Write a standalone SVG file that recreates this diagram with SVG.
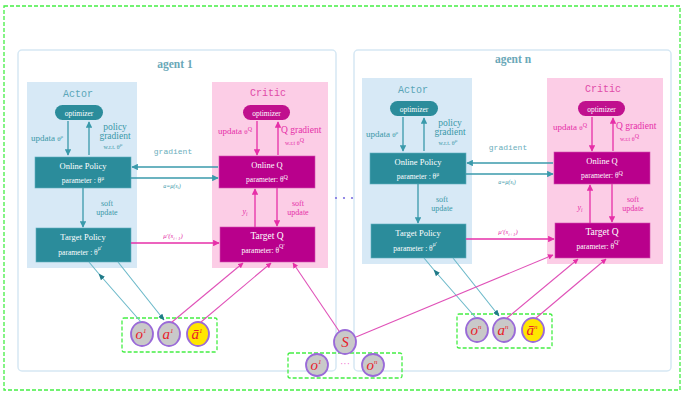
<svg xmlns="http://www.w3.org/2000/svg" width="682" height="393" viewBox="0 0 682 393">
<defs>
<style>
text{font-family:"Liberation Serif","DejaVu Serif",serif;}
.mono{font-family:"Liberation Mono","DejaVu Sans Mono",monospace;}
.agent{fill:#ffffff;stroke:#d6e8f4;stroke-width:1.5;}
.apanel{fill:#d7e9f6;}
.cpanel{fill:#fccde6;}
.tbox{fill:#2b8c9b;stroke:#5fb0c0;stroke-width:0.6;}
.mbox{fill:#b9008c;stroke:#d050b0;stroke-width:0.6;}
.wt{fill:#ffffff;text-anchor:middle;}
.tl{stroke:#3a9aab;stroke-width:1.3;fill:none;}
.pl{stroke:#e62fa8;stroke-width:1.3;fill:none;}
.tl2{stroke:#6ab8c8;stroke-width:1.1;fill:none;}
.pl2{stroke:#e052b8;stroke-width:1.1;fill:none;}
.tlab{fill:#3a98a8;}
.plab{fill:#e62fa8;}
.dash{fill:none;stroke:#44ee44;stroke-width:1.3;stroke-dasharray:4 2;}
.obs{fill:#c9c9c9;stroke:#9a6ad8;stroke-width:1.8;}
.obsy{fill:#ffe600;stroke:#9a6ad8;stroke-width:1.8;}
.ot{fill:#e8202a;font-style:italic;font-size:15px;text-anchor:middle;}
</style>
<marker id="at" viewBox="0 0 10 10" refX="9" refY="5" markerWidth="5" markerHeight="5" orient="auto"><path d="M0,0 L10,5 L0,10 z" fill="#3a9aab"/></marker>
<marker id="at2" viewBox="0 0 10 10" refX="9" refY="5" markerWidth="6" markerHeight="6" orient="auto"><path d="M0,1 L10,5 L0,9 z" fill="#1f7a88"/></marker>
<marker id="ap" viewBox="0 0 10 10" refX="9" refY="5" markerWidth="5" markerHeight="5" orient="auto"><path d="M0,0 L10,5 L0,10 z" fill="#e62fa8"/></marker>
</defs>

<rect class="dash" x="4" y="6" width="676" height="384"/>
<rect class="agent" x="18" y="50" width="318" height="321" rx="4"/>
<rect class="agent" x="354" y="50" width="317" height="321" rx="4"/>

<g id="dots">
<circle cx="336" cy="198" r="1.1" fill="#7b6fe0"/>
<circle cx="344" cy="198" r="1.1" fill="#7b6fe0"/>
<circle cx="352" cy="198" r="1.1" fill="#7b6fe0"/>
</g>

<!-- agent 1 -->
<g id="agent1">
<text x="175" y="68" text-anchor="middle" font-size="11.5" font-weight="bold" fill="#6aa8b8">agent 1</text>
<g id="actor1-panel"><rect class="apanel" x="27" y="82" width="110" height="186"/><text class="mono" x="78" y="97" text-anchor="middle" font-size="10" fill="#5aa6b8">Actor</text></g>
<g id="critic1-panel"><rect class="cpanel" x="212" y="82" width="116" height="186"/><text class="mono" x="268" y="96" text-anchor="middle" font-size="10" fill="#e04aa8">Critic</text></g>
<g id="actor1-opt"><rect x="55" y="105" width="48" height="15" rx="7.5" fill="#2b8c9b"/><text class="wt" x="79" y="115.5" font-size="7.5">optimizer</text></g>
<g id="critic1-opt"><rect x="243" y="105" width="47" height="15" rx="7.5" fill="#c0108e"/><text class="wt" x="266.5" y="115.5" font-size="7.5">optimizer</text></g>
<g id="online-policy1"><rect class="tbox" x="35" y="157" width="96" height="31"/><text class="wt" x="83" y="169" font-size="8.5">Online Policy</text><text class="wt" x="83" y="183" font-size="7.5">parameter : θ<tspan font-size="5.5" dy="-3">μ</tspan></text></g>
<g id="online-q1"><rect class="mbox" x="219" y="156" width="96" height="32"/><text class="wt" x="267" y="168" font-size="8.5">Online Q</text><text class="wt" x="267" y="182" font-size="7.5">parameter:  θ<tspan font-size="6" dy="-3">Q</tspan></text></g>
<g id="target-policy1"><rect class="tbox" x="36" y="228" width="95" height="34"/><text class="wt" x="83" y="240" font-size="8.5">Target Policy</text><text class="wt" x="80" y="255" font-size="7.5">parameter : θ<tspan font-size="5.5" dy="-5">μ'</tspan></text></g>
<g id="target-q1"><rect class="mbox" x="220" y="227" width="95" height="35"/><text class="wt" x="267" y="239" font-size="9.5">Target Q</text><text class="wt" x="263" y="253" font-size="7.5">parameter:  θ<tspan font-size="6" dy="-5">Q'</tspan></text></g>

<g id="agent1-labels">
<text class="tlab" x="31" y="141" font-size="9">updata <tspan font-size="7">θ</tspan><tspan font-size="5" dy="-3">μ</tspan></text>
<text class="tlab" x="115" y="130" font-size="9.5" text-anchor="middle">policy</text>
<text class="tlab" x="115" y="139" font-size="9.5" text-anchor="middle">gradient</text>
<text class="tlab" x="113" y="149" font-size="6" text-anchor="middle">w.r.t. θ<tspan font-size="5" dy="-3">μ</tspan></text>
<text class="mono" x="173" y="154" font-size="8" text-anchor="middle" fill="#6aaebc">gradient</text>
<text class="tlab" x="172" y="188" font-size="6" font-style="italic" text-anchor="middle">a=μ(s<tspan font-size="4.5" dy="1">i</tspan><tspan dy="-1">)</tspan></text>
<text class="tlab" x="107" y="206" font-size="8" text-anchor="middle">soft</text>
<text class="tlab" x="107" y="215" font-size="8" text-anchor="middle">update</text>
<text class="plab" x="252" y="134" font-size="9" text-anchor="end">updata <tspan font-size="7">θ</tspan><tspan font-size="6" dy="-3">Q</tspan></text>
<text class="plab" x="281" y="133" font-size="9.5">Q gradient</text>
<text class="plab" x="285" y="145" font-size="6">w.r.t θ<tspan font-size="6" dy="-3">Q</tspan></text>
<text class="plab" x="245" y="214" font-size="8" font-style="italic" text-anchor="middle">y<tspan font-size="5.5" dy="1.5">i</tspan></text>
<text class="plab" x="298" y="206" font-size="8" text-anchor="middle">soft</text>
<text class="plab" x="298" y="215" font-size="8" text-anchor="middle">update</text>
<text class="plab" x="173" y="238" font-size="7" font-style="italic" text-anchor="middle">μ'(s<tspan font-size="5" dy="1.5">i+1</tspan><tspan dy="-1.5">)</tspan></text>
</g>

<g id="obs1">
<rect class="dash" x="122" y="318" width="95" height="34" rx="2"/>
<g id="o1"><ellipse class="obs" cx="142" cy="334" rx="11" ry="12"/><text class="ot" x="141" y="339">o<tspan font-size="7" dy="-6">1</tspan></text></g>
<g id="a1"><ellipse class="obs" cx="169" cy="334" rx="11" ry="12"/><text class="ot" x="168" y="339">a<tspan font-size="7" dy="-6">1</tspan></text></g>
<g id="abar1"><ellipse class="obsy" cx="198" cy="334" rx="11" ry="12"/><text class="ot" x="197" y="339">ā<tspan font-size="7" dy="-6">1</tspan></text></g>
</g>
</g>

<!-- agent n -->
<g id="agentn" transform="translate(335,-4)">
<text x="178" y="67" text-anchor="middle" font-size="11.5" font-weight="bold" fill="#6aa8b8">agent n</text>
<g id="actorn-panel"><rect class="apanel" x="27" y="82" width="110" height="186"/><text class="mono" x="78" y="97" text-anchor="middle" font-size="10" fill="#5aa6b8">Actor</text></g>
<g id="criticn-panel"><rect class="cpanel" x="212" y="82" width="116" height="186"/><text class="mono" x="268" y="96" text-anchor="middle" font-size="10" fill="#e04aa8">Critic</text></g>
<g id="actorn-opt"><rect x="55" y="105" width="48" height="15" rx="7.5" fill="#2b8c9b"/><text class="wt" x="79" y="115.5" font-size="7.5">optimizer</text></g>
<g id="criticn-opt"><rect x="243" y="105" width="47" height="15" rx="7.5" fill="#c0108e"/><text class="wt" x="266.5" y="115.5" font-size="7.5">optimizer</text></g>
<g id="online-policyn"><rect class="tbox" x="35" y="157" width="96" height="31"/><text class="wt" x="83" y="169" font-size="8.5">Online Policy</text><text class="wt" x="83" y="183" font-size="7.5">parameter : θ<tspan font-size="5.5" dy="-3">μ</tspan></text></g>
<g id="online-qn"><rect class="mbox" x="219" y="156" width="96" height="32"/><text class="wt" x="267" y="168" font-size="8.5">Online Q</text><text class="wt" x="267" y="182" font-size="7.5">parameter:  θ<tspan font-size="6" dy="-3">Q</tspan></text></g>
<g id="target-policyn"><rect class="tbox" x="36" y="228" width="95" height="34"/><text class="wt" x="83" y="240" font-size="8.5">Target Policy</text><text class="wt" x="80" y="255" font-size="7.5">parameter : θ<tspan font-size="5.5" dy="-5">μ'</tspan></text></g>
<g id="target-qn"><rect class="mbox" x="220" y="227" width="95" height="35"/><text class="wt" x="267" y="239" font-size="9.5">Target Q</text><text class="wt" x="263" y="253" font-size="7.5">parameter:  θ<tspan font-size="6" dy="-5">Q'</tspan></text></g>

<g id="agentn-labels">
<text class="tlab" x="31" y="141" font-size="9">updata <tspan font-size="7">θ</tspan><tspan font-size="5" dy="-3">μ</tspan></text>
<text class="tlab" x="115" y="130" font-size="9.5" text-anchor="middle">policy</text>
<text class="tlab" x="115" y="139" font-size="9.5" text-anchor="middle">gradient</text>
<text class="tlab" x="113" y="149" font-size="6" text-anchor="middle">w.r.t. θ<tspan font-size="5" dy="-3">μ</tspan></text>
<text class="mono" x="173" y="154" font-size="8" text-anchor="middle" fill="#6aaebc">gradient</text>
<text class="tlab" x="172" y="188" font-size="6" font-style="italic" text-anchor="middle">a=μ(s<tspan font-size="4.5" dy="1">i</tspan><tspan dy="-1">)</tspan></text>
<text class="tlab" x="107" y="206" font-size="8" text-anchor="middle">soft</text>
<text class="tlab" x="107" y="215" font-size="8" text-anchor="middle">update</text>
<text class="plab" x="252" y="134" font-size="9" text-anchor="end">updata <tspan font-size="7">θ</tspan><tspan font-size="6" dy="-3">Q</tspan></text>
<text class="plab" x="281" y="133" font-size="9.5">Q gradient</text>
<text class="plab" x="285" y="145" font-size="6">w.r.t θ<tspan font-size="6" dy="-3">Q</tspan></text>
<text class="plab" x="245" y="214" font-size="8" font-style="italic" text-anchor="middle">y<tspan font-size="5.5" dy="1.5">i</tspan></text>
<text class="plab" x="298" y="206" font-size="8" text-anchor="middle">soft</text>
<text class="plab" x="298" y="215" font-size="8" text-anchor="middle">update</text>
<text class="plab" x="173" y="238" font-size="7" font-style="italic" text-anchor="middle">μ'(s<tspan font-size="5" dy="1.5">i+1</tspan><tspan dy="-1.5">)</tspan></text>
</g>

<g id="obsn">
<rect class="dash" x="122" y="318" width="95" height="34" rx="2"/>
<g id="on"><ellipse class="obs" cx="142" cy="334" rx="11" ry="12"/><text class="ot" x="141" y="339">o<tspan font-size="7" dy="-6">n</tspan></text></g>
<g id="an"><ellipse class="obs" cx="169" cy="334" rx="11" ry="12"/><text class="ot" x="168" y="339">a<tspan font-size="7" dy="-6">n</tspan></text></g>
<g id="abarn"><ellipse class="obsy" cx="198" cy="334" rx="11" ry="12"/><text class="ot" x="197" y="339">ā<tspan font-size="7" dy="-6">n</tspan></text></g>
</g>
</g>

<!-- global state -->
<g id="state">
<rect class="dash" x="288" y="353" width="114" height="25" rx="2"/>
<g id="s"><ellipse class="obs" cx="345" cy="342" rx="11" ry="12"/><text class="ot" x="345" y="347" font-size="13">S</text></g>
<g id="o1-all"><ellipse class="obs" cx="317" cy="365" rx="11" ry="11"/><text class="ot" x="316" y="370">o<tspan font-size="7" dy="-6">1</tspan></text></g>
<text x="345" y="367" text-anchor="middle" font-size="10" fill="#f070d0">···</text>
<g id="on-all"><ellipse class="obs" cx="373" cy="365" rx="11" ry="11"/><text class="ot" x="372" y="370">o<tspan font-size="7" dy="-6">n</tspan></text></g>
</g>

<!-- connectors -->
<g id="connectors">
<g id="conn-agent1">
<line class="tl" x1="68" y1="121" x2="68" y2="155" marker-end="url(#at)"/>
<line class="tl" x1="89" y1="155" x2="89" y2="122" marker-end="url(#at)"/>
<line class="tl" x1="218" y1="167" x2="132" y2="167" marker-end="url(#at)"/>
<line class="tl" x1="131" y1="178" x2="218" y2="178" marker-end="url(#at)"/>
<line class="tl" x1="83" y1="188" x2="83" y2="227" marker-end="url(#at)"/>
<line class="pl" x1="131" y1="243" x2="219" y2="243" marker-end="url(#ap)"/>
<line class="pl" x1="257" y1="121" x2="257" y2="155" marker-end="url(#ap)"/>
<line class="pl" x1="278" y1="155" x2="278" y2="122" marker-end="url(#ap)"/>
<line class="pl" x1="255" y1="227" x2="255" y2="189" marker-end="url(#ap)"/>
<line class="pl" x1="277" y1="188" x2="277" y2="226" marker-end="url(#ap)"/>
<line class="tl2" x1="141" y1="322" x2="99" y2="274" marker-end="url(#at2)"/>
<line class="tl2" x1="99" y1="274" x2="89" y2="262"/>
<line class="tl2" x1="118" y1="262" x2="164" y2="320" marker-end="url(#at2)"/>
<line class="pl2" x1="172" y1="322" x2="243" y2="263" marker-end="url(#ap)"/>
<line class="pl2" x1="201" y1="322" x2="271" y2="263" marker-end="url(#ap)"/>
</g>
<g id="conn-agentn" transform="translate(335,-4)">
<line class="tl" x1="68" y1="121" x2="68" y2="155" marker-end="url(#at)"/>
<line class="tl" x1="89" y1="155" x2="89" y2="122" marker-end="url(#at)"/>
<line class="tl" x1="218" y1="167" x2="132" y2="167" marker-end="url(#at)"/>
<line class="tl" x1="131" y1="178" x2="218" y2="178" marker-end="url(#at)"/>
<line class="tl" x1="83" y1="188" x2="83" y2="227" marker-end="url(#at)"/>
<line class="pl" x1="131" y1="243" x2="219" y2="243" marker-end="url(#ap)"/>
<line class="pl" x1="257" y1="121" x2="257" y2="155" marker-end="url(#ap)"/>
<line class="pl" x1="278" y1="155" x2="278" y2="122" marker-end="url(#ap)"/>
<line class="pl" x1="255" y1="227" x2="255" y2="189" marker-end="url(#ap)"/>
<line class="pl" x1="277" y1="188" x2="277" y2="226" marker-end="url(#ap)"/>
<line class="tl2" x1="141" y1="322" x2="99" y2="274" marker-end="url(#at2)"/>
<line class="tl2" x1="99" y1="274" x2="89" y2="262"/>
<line class="tl2" x1="118" y1="262" x2="164" y2="320" marker-end="url(#at2)"/>
<line class="pl2" x1="172" y1="322" x2="243" y2="263" marker-end="url(#ap)"/>
<line class="pl2" x1="201" y1="322" x2="271" y2="263" marker-end="url(#ap)"/>
</g>
<line class="pl2" x1="339" y1="331" x2="293" y2="263" marker-end="url(#ap)"/>
<line class="pl2" x1="356" y1="337" x2="553" y2="255" marker-end="url(#ap)"/>
</g>
</svg>
